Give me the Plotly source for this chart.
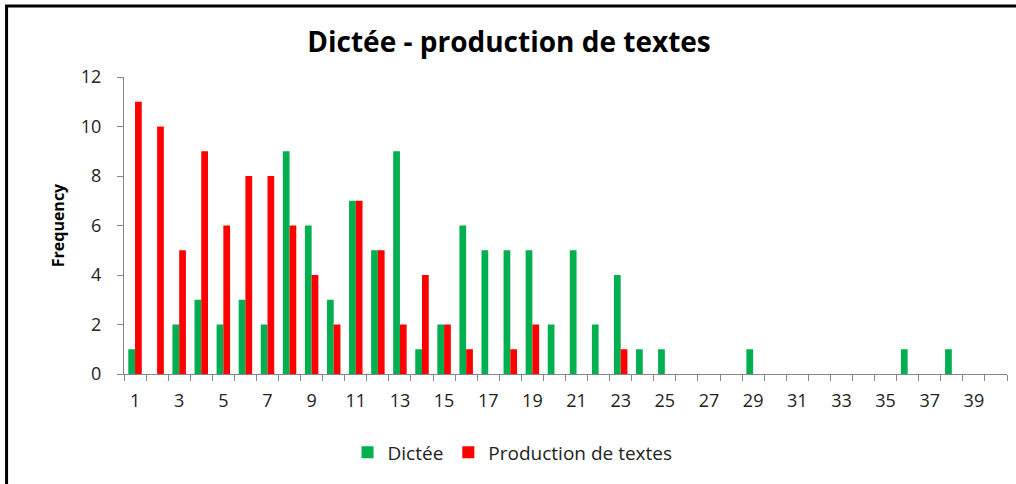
import plotly.graph_objects as go

# category values 1..40
scores = list(range(1, 41))

dictee = [1, 0, 2, 3, 2, 3, 2, 9, 6, 3,
          7, 5, 9, 1, 2, 6, 5, 5, 5, 2,
          5, 2, 4, 1, 1, 0, 0, 0, 1, 0,
          0, 0, 0, 0, 0, 1, 0, 1, 0, 0]

production = [11, 10, 5, 9, 6, 8, 8, 6, 4, 2,
              7, 5, 2, 4, 2, 1, 0, 1, 2, 0,
              0, 0, 1, 0, 0, 0, 0, 0, 0, 0,
              0, 0, 0, 0, 0, 0, 0, 0, 0, 0]

label_ticks = list(range(1, 41, 2))
y_ticks = [0, 2, 4, 6, 8, 10, 12]

FONT = "Open Sans, Noto Sans, sans-serif"
AXIS_GREY = "#868686"

fig = go.Figure()
fig.add_trace(go.Bar(x=scores, y=dictee, name="Dictée", marker_color="#00B050",
                     marker_line_width=0))
fig.add_trace(go.Bar(x=scores, y=production, name="Production de textes",
                     marker_color="#FF0000", marker_line_width=0))

fig.update_layout(
    width=1016, height=484,
    margin=dict(l=124, r=9, t=77, b=110),
    paper_bgcolor="white", plot_bgcolor="white",
    barmode="group", bargap=0.39, bargroupgap=0,
    font=dict(family=FONT, size=18, color="#222222"),
    title=dict(text="<b>Dictée - production de textes</b>", x=0.501, xanchor="center",
               y=0.913, yanchor="middle", font=dict(size=28, color="black")),
    legend=dict(orientation="h", x=0.44, xanchor="center", y=-0.264, yanchor="middle",
                font=dict(size=19), itemwidth=30, traceorder="normal"),
    showlegend=True,
)

fig.update_xaxes(
    range=[0.5, 40.5], tickmode="array", tickvals=label_ticks,
    ticks="", showline=True, linecolor=AXIS_GREY, linewidth=1,
    showgrid=False, zeroline=False, ticklabelstandoff=10,
    minor=dict(tickmode="linear", tick0=0.5, dtick=1, ticks="outside",
               ticklen=6, tickcolor=AXIS_GREY, showgrid=False),
)
fig.update_yaxes(
    range=[0, 12], tickmode="array", tickvals=y_ticks,
    ticks="outside", ticklen=6, tickcolor=AXIS_GREY,
    showline=True, linecolor=AXIS_GREY, linewidth=1,
    showgrid=False, zeroline=False, ticklabelstandoff=12,
    title=dict(text="<b>Frequency</b>", font=dict(size=16, color="black"), standoff=12),
)

# black frame of the picture, cropped at the right and bottom
fig.add_shape(type="rect", xref="paper", yref="paper",
              x0=-0.133, x1=1.3, y0=-0.6, y1=1.239,
              line=dict(color="black", width=3), layer="above")

# the page's default body margin would push the figure off by 8px
fig.write_html("out.html", config={"displayModeBar": False},
               post_script="document.body.style.margin='0px';")
